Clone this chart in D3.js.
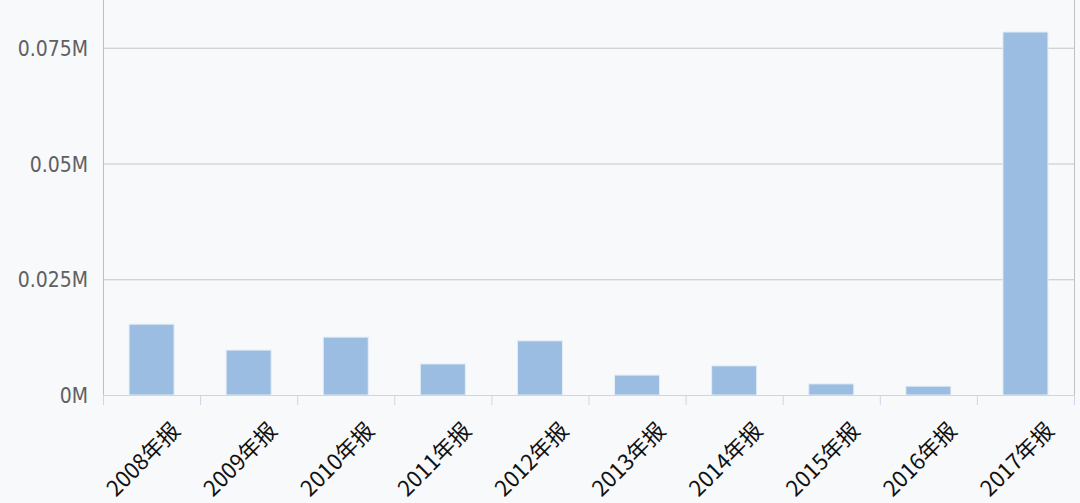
<!DOCTYPE html>
<meta charset="utf-8">
<style>
    body { margin: 0; background: #f8f9fb; }
    svg { display: block; }
    .ylab { font: 21px "DejaVu Sans Condensed", "DejaVu Sans", sans-serif; fill: #606060; }
    .xlab { font: 22px "Noto Sans CJK SC", sans-serif; fill: #111; }
</style>
<svg width="1080" height="503"></svg>
<script src="https://cdn.jsdelivr.net/npm/d3@7/dist/d3.min.js"></script>
<script>

    // report periods and values (millions)
    const categories = ["2008年报", "2009年报", "2010年报", "2011年报", "2012年报",
                        "2013年报", "2014年报", "2015年报", "2016年报", "2017年报"];
    const values = [0.0153, 0.0097, 0.0125, 0.0067, 0.0117, 0.0043, 0.0063, 0.0024, 0.0019, 0.0784];

    const yTicks = [0, 0.025, 0.05, 0.075];
    const yTickLabels = ["0M", "0.025M", "0.05M", "0.075M"];

    var svg = d3.select("svg"),
        left = 103, right = 1074, base = 395;

    var x = d3.scaleBand()
        .domain(categories)
        .range([left, right]);

    var y = d3.scaleLinear()
        .domain([0, 0.1])
        .range([base, base - 463]);

    const barW = 45;

    // grid
    svg.append("g").selectAll("line")
        .data(yTicks.slice(1))
        .enter().append("line")
            .attr("x1", left).attr("x2", right)
            .attr("y1", d => y(d) + 0.5).attr("y2", d => y(d) + 0.5)
            .attr("stroke", "#c6c6c6").attr("stroke-width", 1);

    // vertical frame lines
    svg.append("line")
        .attr("x1", left + 0.5).attr("x2", left + 0.5)
        .attr("y1", 0).attr("y2", base)
        .attr("stroke", "#c0c0c0");
    svg.append("line")
        .attr("x1", right + 0.5).attr("x2", right + 0.5)
        .attr("y1", 0).attr("y2", base)
        .attr("stroke", "#c0c0c0");

    // bars
    svg.append("g").selectAll("rect")
        .data(values)
        .enter().append("rect")
            .attr("x", (d, i) => x(categories[i]) + (x.bandwidth() - barW) / 2)
            .attr("y", d => y(d))
            .attr("width", barW)
            .attr("height", d => base - y(d))
            .attr("fill", "#9abde1")
            .attr("stroke", "#e4edf7")
            .attr("stroke-width", 1);

    // x axis line + ticks
    svg.append("line")
        .attr("x1", left).attr("x2", right + 1)
        .attr("y1", base + 0.5).attr("y2", base + 0.5)
        .attr("stroke", "#ccd6eb");

    var tickXs = categories.map(c => x(c)).concat([right]);
    svg.append("g").selectAll("line")
        .data(tickXs)
        .enter().append("line")
            .attr("x1", d => d + 0.5).attr("x2", d => d + 0.5)
            .attr("y1", base).attr("y2", base + 10)
            .attr("stroke", "#ccd6eb");

    // y labels
    svg.append("g").selectAll("text")
        .data(yTicks)
        .enter().append("text")
            .attr("class", "ylab")
            .attr("x", 88)
            .attr("y", d => y(d) + 8)
            .attr("text-anchor", "end")
            .text((d, i) => yTickLabels[i]);

    // x labels, rotated
    svg.append("g").selectAll("text")
        .data(categories)
        .enter().append("text")
            .attr("class", "xlab")
            .attr("text-anchor", "end")
            .attr("transform", d => "translate(" + (x(d) + x.bandwidth() / 2 + 30) + "," + (base + 37) + ") rotate(-45)")
            .text(d => d);

</script>
